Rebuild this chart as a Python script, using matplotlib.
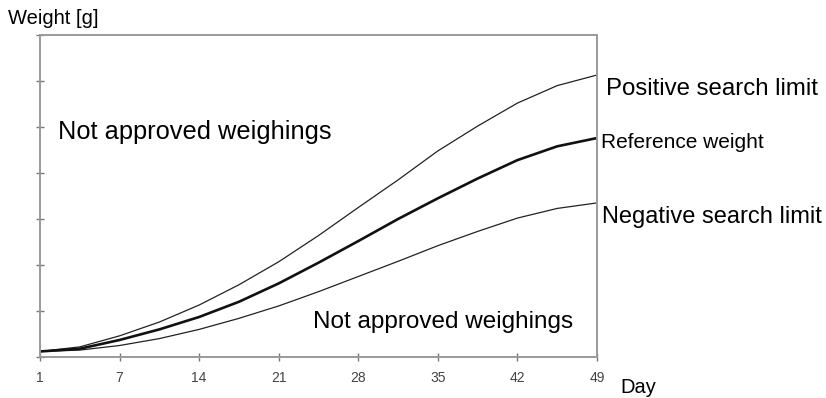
import matplotlib
matplotlib.use("Agg")
from matplotlib import pyplot as plt

plt.rcParams['font.family'] = ['Liberation Sans', 'DejaVu Sans']

# x positions of the samples (tick "1" sits at position 0)
x_pos = [0, 3.5, 7, 10.5, 14, 17.5, 21, 24.5, 28, 31.5, 35, 38.5, 42, 45.5, 49]
positive_limit = [0.12, 0.22, 0.46, 0.76, 1.13, 1.57, 2.07, 2.64, 3.25, 3.85, 4.48, 5.02, 5.52, 5.90, 6.13]
reference_weight = [0.12, 0.18, 0.37, 0.60, 0.87, 1.20, 1.60, 2.05, 2.52, 3.00, 3.45, 3.88, 4.28, 4.58, 4.76]
negative_limit = [0.12, 0.15, 0.25, 0.40, 0.60, 0.84, 1.11, 1.42, 1.75, 2.08, 2.42, 2.73, 3.02, 3.23, 3.35]

tick_pos = [0, 7, 14, 21, 28, 35, 42, 49]
tick_labels = ["1", "7", "14", "21", "28", "35", "42", "49"]

W, H = 826, 398
fig = plt.figure(figsize=(W / 100, H / 100), dpi=100)
ax = fig.add_axes([40 / W, 1 - 357 / H, 557 / W, 322 / H])

line_kw = dict(solid_joinstyle='round', solid_capstyle='round')
ax.plot(x_pos, positive_limit, color='#222222', linewidth=0.9, **line_kw)
ax.plot(x_pos, negative_limit, color='#222222', linewidth=0.9, **line_kw)
ax.plot(x_pos, reference_weight, color='#111111', linewidth=1.9, **line_kw)

ax.set_xlim(0, 49)
ax.set_ylim(0, 7)
ax.set_xticks(tick_pos)
ax.set_xticklabels(tick_labels)
ax.set_yticks(range(0, 8))
ax.set_yticklabels([])
for s in ax.spines.values():
    s.set_color('#9a9a9a')
    s.set_linewidth(1.4)
ax.tick_params(axis='both', direction='inout', length=6, width=1, color='#777777')
ax.tick_params(axis='x', pad=7, labelsize=10, labelcolor='#444444')


def ftext(px, py, s, size, **kw):
    fig.text(px / W, 1 - py / H, s, fontsize=size, va='baseline', ha='left', **kw)


ftext(8, 24, "Weight [g]", 14.5)
ftext(620, 393, "Day", 14.5)
ftext(606, 95, "Positive search limit", 17.3)
ftext(601, 147.5, "Reference weight", 15)
ftext(602, 223, "Negative search limit", 17)
ftext(58, 139.5, "Not approved weighings", 18.3)
ftext(313, 328, "Not approved weighings", 17.5)

fig.savefig("out.png", dpi=100)
plt.close(fig)
